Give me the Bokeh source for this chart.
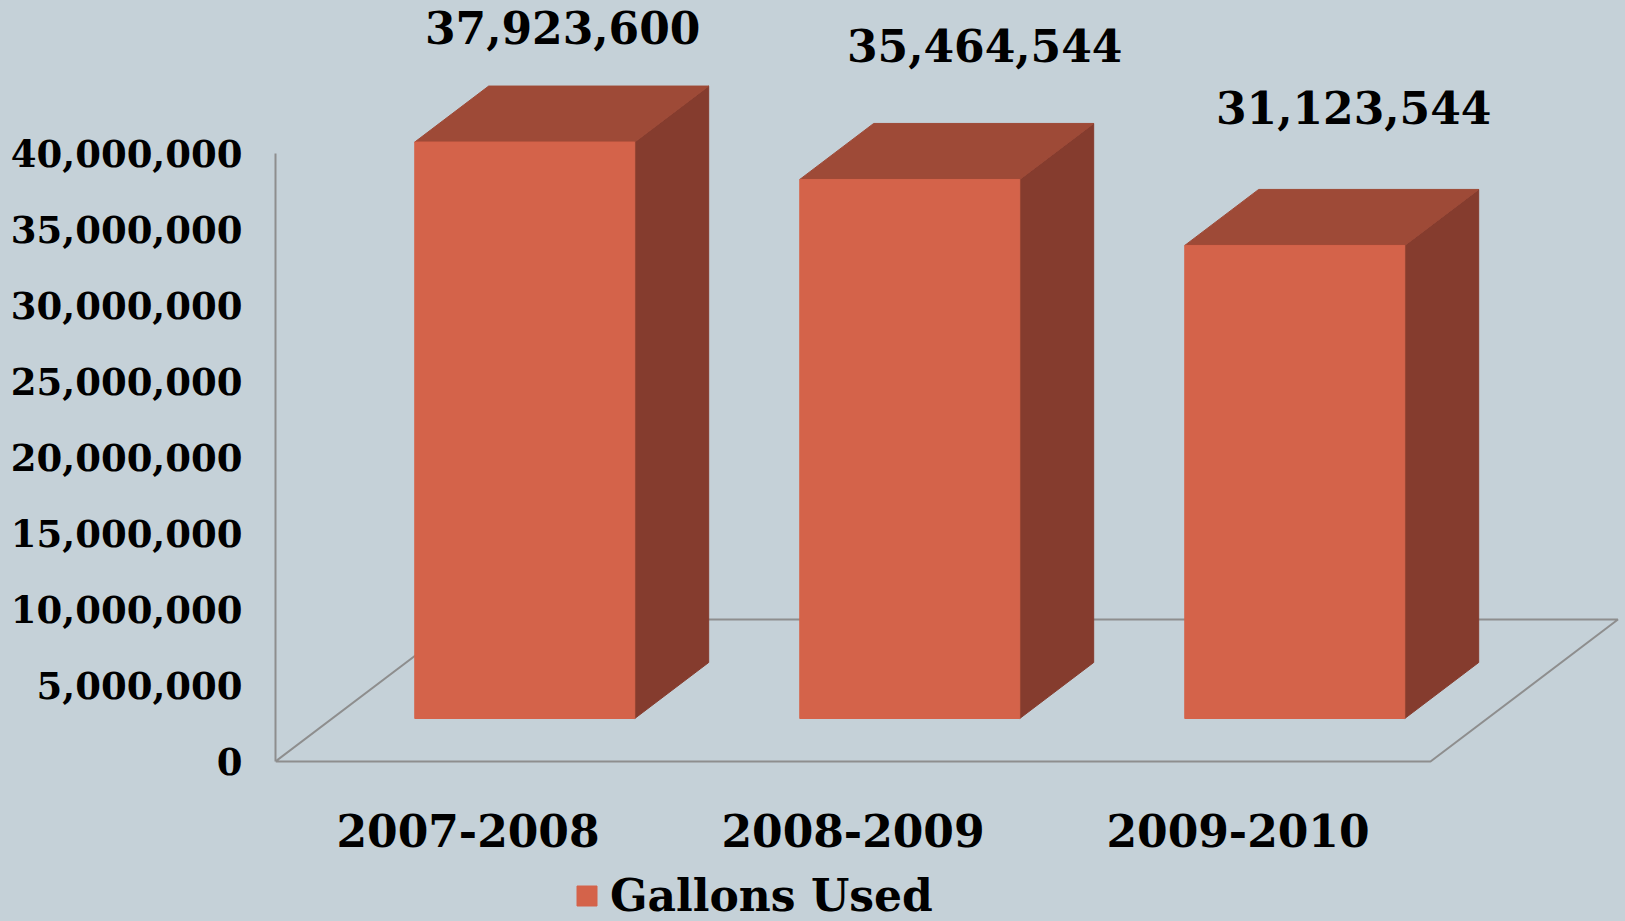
from bokeh.plotting import figure
from bokeh.models import (ColumnDataSource, Range1d, LinearAxis, FixedTicker,
                          NumeralTickFormatter, Legend, LegendItem, GlobalInlineStyleSheet)
from bokeh.core.properties import value
from bokeh.embed import file_html
from bokeh.resources import INLINE

# ---------------- data ----------------
categories = ["2007-2008", "2008-2009", "2009-2010"]
gallons = [37923600, 35464544, 31123544]
series_name = "Gallons Used"
y_ticks = [0, 5000000, 10000000, 15000000, 20000000, 25000000, 30000000, 35000000, 40000000]

# ---------------- layout / style ----------------
W, H = 1625, 921
LEFT = 275            # width of the left axis panel
BASE_Y = 761          # canvas y of the zero line (front edge of floor)
PX_PER_CAT = 385.0
PX_PER_GAL = 15.2e-6
X_START = -0.5
SLANT = 1.32          # horizontal shift per pixel of depth
D_FRONT, D_BACK, FLOOR_D = 43, 99, 142
HALF_W = 110
LABEL_DX = [-36, 1, -15]
LABEL_DY = [-59, -78, -82]

BG = "#C5D1D8"
FRONT = "#D4634A"
TOP = "#9E4A37"
SIDE = "#853C2E"
GRID = "#8E8E8E"
FONT = "DejaVu Serif"


def dx(px):
    return px / PX_PER_CAT


def dy(px):
    return px / PX_PER_GAL


x_end = X_START + (W - LEFT) / PX_PER_CAT
y_start = -(H - BASE_Y) / PX_PER_GAL
y_end = BASE_Y / PX_PER_GAL

p = figure(width=W, height=H, output_backend="svg", toolbar_location=None,
           x_axis_type=None, y_axis_type=None,
           x_range=Range1d(X_START, x_end), y_range=Range1d(y_start, y_end),
           min_border_left=LEFT, min_border_right=0, min_border_top=0, min_border_bottom=0)
p.background_fill_color = BG
p.border_fill_color = BG
p.outline_line_color = None
p.grid.visible = False
p.stylesheets = [GlobalInlineStyleSheet(css=f"body {{ background: {BG}; }}")]

# ---------------- floor ----------------
n = len(categories)
fx = dx(SLANT * FLOOR_D)
fy = dy(FLOOR_D)
p.line(x=[X_START, X_START + n, X_START + n + fx, X_START + fx, X_START],
       y=[0, 0, fy, fy, 0], line_color=GRID, line_width=2)

# ---------------- 3D bars ----------------
ox = dx(SLANT * (D_BACK - D_FRONT))
oy = dy(D_BACK - D_FRONT)
base = dy(D_FRONT)
lefts, rights, bottoms, tops = [], [], [], []
top_xs, top_ys, side_xs, side_ys = [], [], [], []
lab_x, lab_y = [], []
for i, v in enumerate(gallons):
    cx = i + dx(SLANT * D_FRONT)
    L, R = cx - dx(HALF_W), cx + dx(HALF_W)
    b, t = base, v + base
    lefts.append(L); rights.append(R); bottoms.append(b); tops.append(t)
    top_xs.append([L, R, R + ox, L + ox]); top_ys.append([t, t, t + oy, t + oy])
    side_xs.append([R, R + ox, R + ox, R]); side_ys.append([b, b + oy, t + oy, t])
    lab_x.append(cx + ox); lab_y.append(t + oy)

p.patches(xs=side_xs, ys=side_ys, fill_color=SIDE, line_color=SIDE, line_width=1)
p.patches(xs=top_xs, ys=top_ys, fill_color=TOP, line_color=TOP, line_width=1)
front_src = ColumnDataSource(dict(left=lefts, right=rights, bottom=bottoms, top=tops))
front_r = p.quad(left="left", right="right", bottom="bottom", top="top", source=front_src,
                 fill_color=FRONT, line_color=FRONT, line_width=1)

# ---------------- data labels ----------------
lab_src = ColumnDataSource(dict(x=lab_x, y=lab_y, text=[f"{v:,}" for v in gallons],
                                xo=LABEL_DX, yo=LABEL_DY))
p.text(x="x", y="y", text="text", source=lab_src, x_offset="xo", y_offset="yo",
       text_align="center", text_baseline="middle", text_font=value(FONT),
       text_font_style="bold", text_font_size="44px", text_color="black")

# ---------------- category labels ----------------
cat_src = ColumnDataSource(dict(x=list(range(n)), y=[dy(-69)] * n, text=categories))
p.text(x="x", y="y", text="text", source=cat_src, text_align="center",
       text_baseline="middle", text_font=value(FONT), text_font_style="bold",
       text_font_size="44px", text_color="black")

# ---------------- y axis ----------------
yaxis = LinearAxis(ticker=FixedTicker(ticks=y_ticks), formatter=NumeralTickFormatter(format="0,0"),
                   bounds=(y_ticks[0], y_ticks[-1]), axis_line_color=GRID, axis_line_width=2,
                   major_tick_line_color=None, minor_tick_line_color=None,
                   major_tick_out=0, major_tick_in=0, major_label_standoff=33,
                   major_label_text_font=FONT, major_label_text_font_style="bold",
                   major_label_text_font_size="37px", major_label_text_color="black")
p.add_layout(yaxis, "left")

# ---------------- legend ----------------
legend = Legend(items=[LegendItem(label=series_name, renderers=[front_r])],
                location=(299, 0), orientation="horizontal", padding=0, margin=0, spacing=0,
                glyph_width=25, glyph_height=25, label_standoff=11, label_height=25,
                label_text_font=FONT, label_text_font_style="bold", label_text_font_size="44px",
                label_text_color="black", border_line_color=None, background_fill_alpha=0)
p.add_layout(legend)

open("out.html", "w").write(file_html(p, INLINE))
